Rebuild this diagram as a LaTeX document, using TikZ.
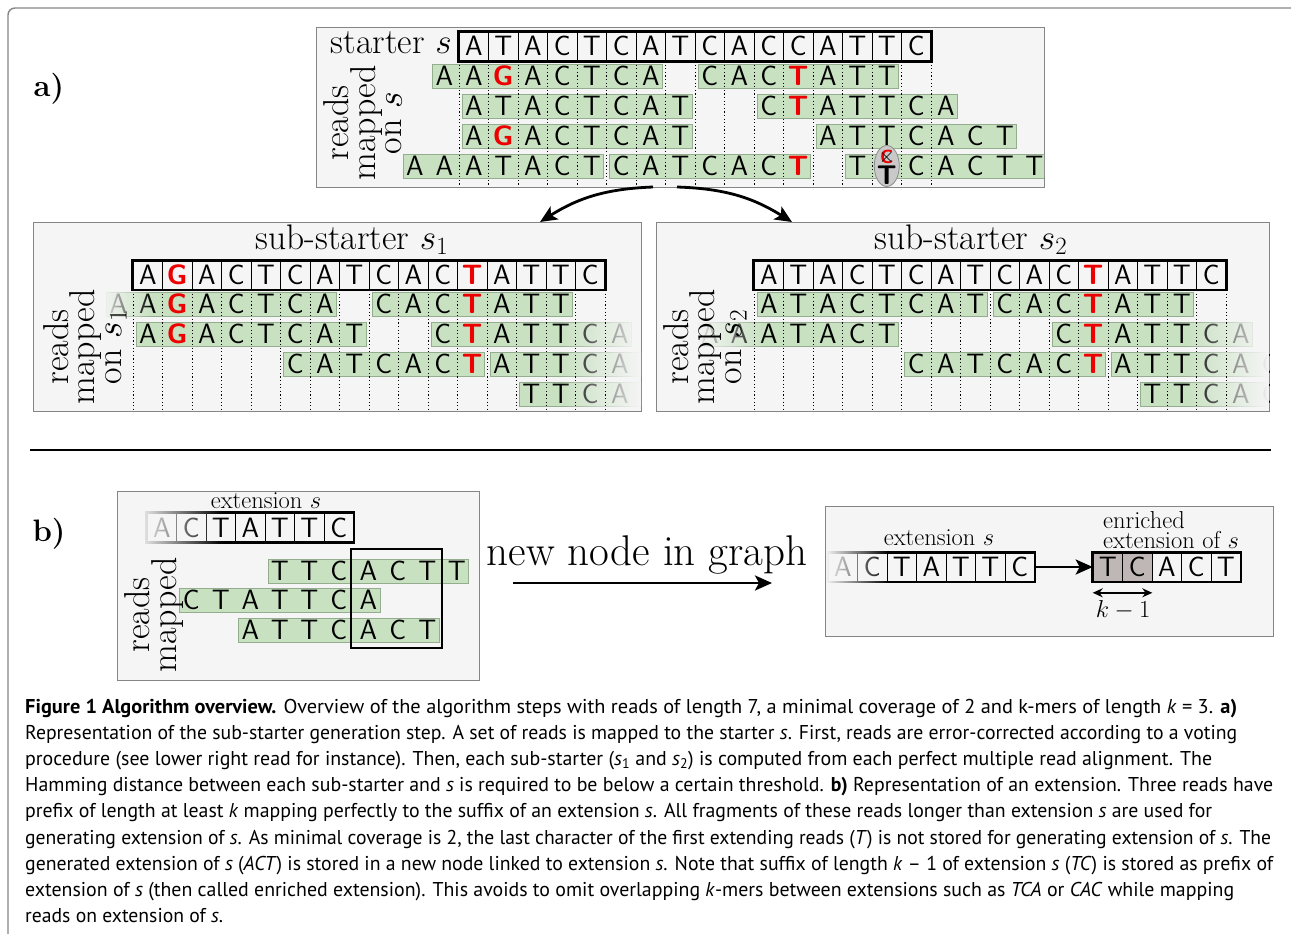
\RequirePackage{fix-cm}
\documentclass[tikz,border=0pt]{standalone}
\usepackage{fontspec}
\usepackage{graphicx}
\usetikzlibrary{arrows.meta,fadings}
\newfontfamily\capfont{PT Sans}
\definecolor{readgreen}{HTML}{C8E1C1}
\definecolor{readedge}{HTML}{93AD8E}
\definecolor{panelbg}{HTML}{F5F5F5}
\definecolor{paneledge}{HTML}{858585}
\definecolor{errred}{HTML}{EC0000}
\definecolor{enrich}{HTML}{BFB6B6}
\definecolor{oval}{HTML}{C9C9C9}
\newcommand{\err}[1]{\textcolor{errred}{\bfseries #1}}
\newcommand{\seqbox}[5]{%
  \foreach \c [count=\i from 0] in {#5}
    \node[cell] (#1-\i) at ({#2+(\i+0.5)*\cw},#3) {\c};
  \draw[thickbox] (#1-0.north west) rectangle (#1-#4.south east);
}
\newcommand{\seqread}[6]{%
  \draw[readbox] ({#2+(#4)*\cw+3},{#3-12}) rectangle ({#2+(#5+1)*\cw-3},{#3+12});
  \foreach \c [count=\i from #4] in {#6}
    \node[letter] (#1-\i) at ({#2+(\i+0.5)*\cw},#3) {\c};
}
\newsavebox\capbox
\newlength\capw
\newcommand{\fitline}[2]{%
  \sbox\capbox{\capfont\fontsize{20}{26}\selectfont #2}%
  \setlength\capw{\wd\capbox}%
  \pgfmathsetmacro\capscale{#1/\capw}%
  \scalebox{\capscale}[1]{\usebox\capbox}%
}
\newcommand{\capline}[4]{%
  \node[anchor=base west, inner sep=0pt] (#1) at (25,#2) {\fitline{#3}{#4}};
}
\tikzset{
  panel/.style={draw=paneledge, fill=panelbg, line width=0.9pt},
  letter/.style={font=\sffamily\fontsize{28}{28}\selectfont, inner sep=0pt, text height=19pt, text depth=0pt},
  cell/.style={letter, draw, line width=0.6pt, minimum width=29.5pt, minimum height=29pt},
  readbox/.style={draw=readedge, fill=readgreen, line width=0.8pt},
  thickbox/.style={line width=2.6pt},
  grid line/.style={dash pattern=on 1.2pt off 2.4pt, line width=0.8pt},
  headline/.style={font=\fontsize{35.5}{35.5}\selectfont, inner sep=0pt},
  side/.style={font=\fontsize{36}{26.5}\selectfont, align=center, rotate=90, inner sep=0pt},
  lbl/.style={font=\fontsize{24.5}{20}\selectfont, inner sep=0pt},
  tag/.style={font=\fontsize{31}{31}\selectfont\bfseries, inner sep=0pt},
  bigarrow/.style={line width=2.8pt, -{Stealth[length=17pt,width=15pt,inset=4pt]}},
}

\begin{document}
\begin{tikzpicture}[x=1pt,y=-1pt]
  \useasboundingbox (0,0) rectangle (1291,934);
  \pgfmathsetmacro\cw{29.5}
  \draw[paneledge, line width=1.4pt, rounded corners=7pt] (8,934) -- (8,8) -- (1291,8);

  \node[tag] (taga) at (49,89) {a)};
  \draw[panel] (316,27) rectangle (1044,187);
  \node[headline, anchor=base east] (stlabel) at (452,54) {starter $s$};
  \seqbox{st}{459}{46.5}{15}{A,T,A,C,T,C,A,T,C,A,C,C,A,T,T,C}
  \begin{scope}
    \clip (316,27) rectangle (1044,187);
    \seqread{a1}{459}{76}{-1}{6}{A,A,\err G,A,C,T,C,A}
    \seqread{a2}{459}{76}{8}{14}{C,A,C,\err T,A,T,T}
    \seqread{a3}{459}{106}{0}{7}{A,T,A,C,T,C,A,T}
    \seqread{a4}{459}{106}{10}{16}{C,\err T,A,T,T,C,A}
    \seqread{a5}{459}{136}{0}{7}{A,\err G,A,C,T,C,A,T}
    \seqread{a6}{459}{136}{12}{18}{A,T,T,C,A,C,T}
    \seqread{a7}{459}{166}{-2}{4}{A,A,A,T,A,C,T}
    \seqread{a8}{459}{166}{5}{11}{C,A,T,C,A,C,\err T}
    \seqread{a9}{459}{166}{13}{19}{T,{},C,A,C,T,T}
    \filldraw[fill=oval, draw=black!45, line width=0.8pt] (886.75,166) ellipse [x radius=12.5, y radius=20.5];
  \end{scope}
  \node[side] (mapa) at (363,123) {reads\\mapped\\on $s$};
  \node[font=\sffamily\bfseries\fontsize{19}{19}\selectfont, text=errred, inner sep=0pt] (wrong) at (886.75,157) {C};
  \node[font=\fontsize{20}{20}\selectfont, inner sep=0pt] (cross) at (886.75,157) {$\times$};
  \node[font=\sffamily\bfseries\fontsize{27}{27}\selectfont, inner sep=0pt] (fixed) at (886.75,175.5) {T};
  \foreach \k in {0,...,16}
    \draw[grid line] ({459+\k*\cw},61) -- ({459+\k*\cw},186);

  \coordinate (fromleft) at (653,187);
  \coordinate (fromright) at (677,187);
  \coordinate (tosa) at (540,222);
  \coordinate (tosb) at (792,222);
  \draw[bigarrow] (fromleft) to[bend right=15] (tosa);
  \draw[bigarrow] (fromright) to[bend left=15] (tosb);

  \draw[panel] (33,222) rectangle (641,411);
  \node[headline] (satitle) at (352,240) {sub-starter $s_1$};
  \seqbox{su}{133}{275}{15}{A,\err G,A,C,T,C,A,T,C,A,C,\err T,A,T,T,C}
  \begin{scope}
    \clip (33,222) rectangle (641,411);
    \seqread{b1}{133}{304}{-1}{6}{A,A,\err G,A,C,T,C,A}
    \seqread{b2}{133}{304}{8}{14}{C,A,C,\err T,A,T,T}
    \seqread{b3}{133}{334}{0}{7}{A,\err G,A,C,T,C,A,T}
    \seqread{b4}{133}{334}{10}{16}{C,\err T,A,T,T,C,A}
    \seqread{b5}{133}{364}{5}{11}{C,A,T,C,A,C,\err T}
    \seqread{b6}{133}{364}{12}{18}{A,T,T,C,A,C,T}
    \seqread{b7}{133}{394}{13}{19}{T,T,C,A,C,T,T}
    \fill[panelbg, path fading=east] (100,291) rectangle (152,317);
    \fill[panelbg, path fading=west] (560,320) rectangle (640.5,410);
  \end{scope}
  \node[side] (mapb) at (85,347) {reads\\mapped\\on $s_1$};
  \foreach \k in {0,...,16}
    \draw[grid line] ({133+\k*\cw},290) -- ({133+\k*\cw},410);

  \draw[panel] (656,222) rectangle (1269,411);
  \node[headline] (sbtitle) at (971,240) {sub-starter $s_2$};
  \seqbox{sv}{754}{275}{15}{A,T,A,C,T,C,A,T,C,A,C,\err T,A,T,T,C}
  \begin{scope}
    \clip (656,222) rectangle (1269,411);
    \seqread{c1}{754}{304}{0}{7}{A,T,A,C,T,C,A,T}
    \seqread{c2}{754}{304}{8}{14}{C,A,C,\err T,A,T,T}
    \seqread{c3}{754}{334}{-2}{4}{A,A,A,T,A,C,T}
    \seqread{c4}{754}{334}{10}{16}{C,\err T,A,T,T,C,A}
    \seqread{c5}{754}{364}{5}{11}{C,A,T,C,A,C,\err T}
    \seqread{c6}{754}{364}{12}{18}{A,T,T,C,A,C,T}
    \seqread{c7}{754}{394}{13}{19}{T,T,C,A,C,T,T}
    \fill[panelbg, path fading=east] (695,321) rectangle (765,347);
    \fill[panelbg, path fading=west] (1185,320) rectangle (1268.5,410);
  \end{scope}
  \node[side] (mapc) at (705,347) {reads\\mapped\\on $s_2$};
  \foreach \k in {0,...,16}
    \draw[grid line] ({754+\k*\cw},290) -- ({754+\k*\cw},410);

  \draw[line width=2.8pt] (30,450) -- (1271,450);

  \node[tag] (tagb) at (49,534) {b)};
  \draw[panel] (117,491) rectangle (479,680);
  \node[lbl] (extl) at (266,501) {extension $s$};
  \seqbox{ex}{147}{527.5}{6}{A,C,T,A,T,T,C}
  \fill[panelbg, path fading=east] (138,510) rectangle (222,545);
  \seqread{d1}{147}{571}{4}{10}{T,T,C,A,C,T,T}
  \seqread{d2}{147}{600}{1}{7}{C,T,A,T,T,C,A}
  \seqread{d3}{147}{630}{3}{9}{A,T,T,C,A,C,T}
  \draw[thickbox] (351,549) rectangle (442,648);
  \node[side] (mapd) at (154,615) {reads\\mapped};

  \node[font=\fontsize{43}{43}\selectfont, inner sep=0pt] (newnode) at (647,555) {new node in graph};
  \coordinate (ngfrom) at (513,583);
  \coordinate (ngto) at (772,583);
  \draw[bigarrow] (ngfrom) -- (ngto);

  \draw[panel] (825,506) rectangle (1273,636);
  \node[lbl] (extr) at (939,538) {extension $s$};
  \seqbox{ey}{828}{567}{6}{A,C,T,A,T,T,C}
  \fill[panelbg, path fading=east] (825.6,550) rectangle (888,584);
  \fill[enrich] (1093,552.5) rectangle ({1093+2*\cw},581.5);
  \seqbox{en}{1093}{567}{4}{T,C,A,C,T}
  \draw[bigarrow] (ey-6.east) -- (en-0.west);
  \node[lbl, align=left, anchor=west] (enrl) at (1103,530) {enriched\\extension of $s$};
  \draw[line width=1.8pt, {Stealth[length=10pt,width=9pt]}-{Stealth[length=10pt,width=9pt]}] ([yshift=-11pt]en-0.south west) -- ([yshift=-11pt]en-1.south east);
  \node[lbl] (kone) at (1123,610) {$k-1$};

  \capline{cap1}{713}{1212}{\textbf{Figure 1 Algorithm overview.} Overview of the algorithm steps with reads of length 7, a minimal coverage of 2 and k-mers of length \textit{k} = 3. \textbf{a)}}
  \capline{cap2}{739.2}{1212}{Representation of the sub-starter generation step. A set of reads is mapped to the starter \textit{s}. First, reads are error-corrected according to a voting}
  \capline{cap3}{765.4}{1187}{procedure (see lower right read for instance). Then, each sub-starter (\textit{s}\textsubscript{1} and \textit{s}\textsubscript{2}) is computed from each perfect multiple read alignment. The}
  \capline{cap4}{791.6}{1248}{Hamming distance between each sub-starter and \textit{s} is required to be below a certain threshold. \textbf{b)} Representation of an extension. Three reads have}
  \capline{cap5}{817.8}{1187}{prefix of length at least \textit{k} mapping perfectly to the suffix of an extension \textit{s}. All fragments of these reads longer than extension \textit{s} are used for}
  \capline{cap6}{844}{1246}{generating extension of \textit{s}. As minimal coverage is 2, the last character of the first extending reads (\textit{T}) is not stored for generating extension of \textit{s}. The}
  \capline{cap7}{870.2}{1248}{generated extension of \textit{s} (\textit{ACT}) is stored in a new node linked to extension \textit{s}. Note that suffix of length \textit{k} – 1 of extension \textit{s} (\textit{TC}) is stored as prefix of}
  \capline{cap8}{896.4}{1209}{extension of \textit{s} (then called enriched extension). This avoids to omit overlapping \textit{k}-mers between extensions such as \textit{TCA} or \textit{CAC} while mapping}
  \capline{cap9}{922.6}{198}{reads on extension of \textit{s}.}
\end{tikzpicture}
\end{document}
